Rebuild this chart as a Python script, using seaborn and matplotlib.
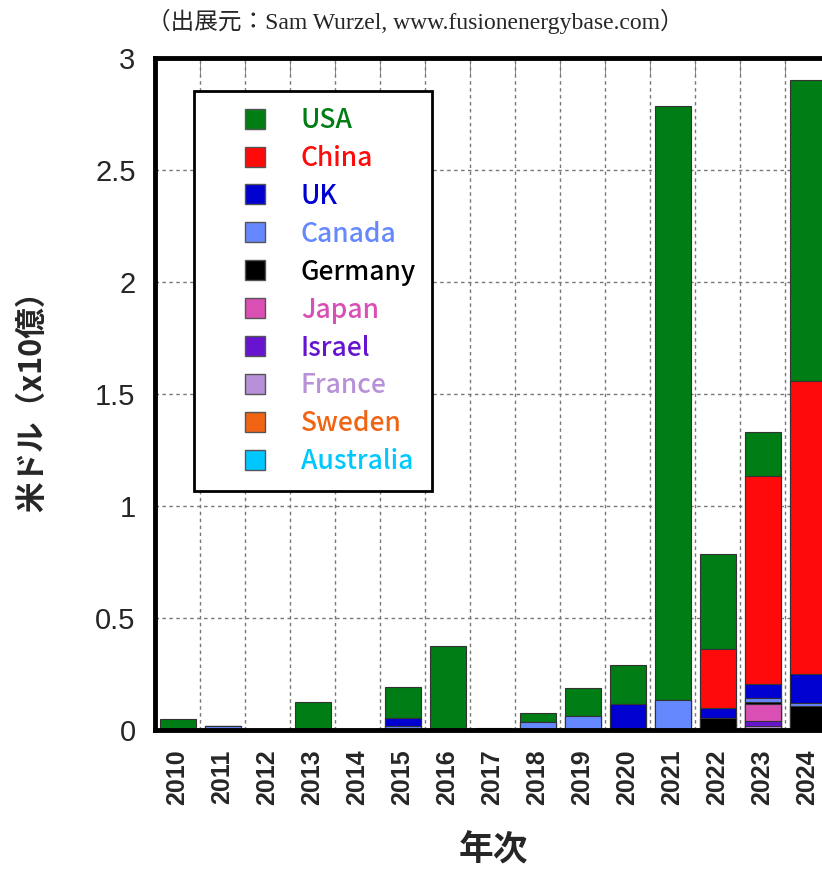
import matplotlib
matplotlib.use('Agg')
import matplotlib.pyplot as plt
import seaborn as sns
import numpy as np
from matplotlib.lines import Line2D

years = [str(y) for y in range(2010, 2025)]
usa = [0.05, 0, 0, 0.125, 0, 0.137, 0.375, 0.008, 0.04, 0.125, 0.174, 2.652, 0.424, 0.197, 1.348]
china = [0, 0, 0, 0, 0, 0, 0, 0, 0, 0, 0, 0, 0.264, 0.925, 1.307]
uk = [0, 0, 0, 0, 0, 0.033, 0, 0, 0, 0, 0.115, 0, 0.043, 0.062, 0.127]
canada = [0, 0.02, 0, 0, 0, 0.02, 0, 0, 0.035, 0.0625, 0, 0.134, 0, 0.021, 0.015]
germany = [0, 0, 0, 0, 0, 0, 0, 0, 0, 0, 0, 0, 0.051, 0.01, 0.104]
japan = [0, 0, 0, 0, 0, 0, 0, 0, 0, 0, 0, 0, 0, 0.072, 0]
israel = [0, 0, 0, 0, 0, 0, 0, 0, 0, 0, 0, 0, 0.004, 0.022, 0.003]
france = [0, 0, 0, 0, 0, 0, 0, 0, 0, 0, 0, 0, 0, 0.02, 0]
sweden = [0] * 15
australia = [0] * 15

countries = ['USA', 'China', 'UK', 'Canada', 'Germany', 'Japan', 'Israel', 'France', 'Sweden', 'Australia']
colors = ['#007d14', '#ff0a0a', '#0000d0', '#6688ff', '#000000', '#d94fb3', '#6614d0', '#b890d8', '#f06414', '#00c8ff']
series = [usa, china, uk, canada, germany, japan, israel, france, sweden, australia]

sns.set_style('white')
plt.rcParams['font.family'] = ['Liberation Sans', 'Noto Sans CJK JP']

fig = plt.figure(figsize=(8.22, 8.69), dpi=100)
ax = fig.add_axes([155 / 822, 139 / 869, 675 / 822, 672 / 869])

# stacked bars: draw cumulative totals from top layer down
stack = np.array(series[::-1])  # bottom -> top
cum = np.cumsum(stack, axis=0)
for i in range(len(countries) - 1, -1, -1):
    col = colors[::-1][i]
    sns.barplot(x=years, y=cum[i], color=col, saturation=1, width=0.8,
                edgecolor='#333333', linewidth=0.8, errorbar=None, ax=ax)

ax.set_ylim(0, 3)
ax.set_xlim(-0.5, 14.5)
ax.set_yticks([0, 0.5, 1, 1.5, 2, 2.5, 3])
ax.set_yticklabels(['0', '0.5', '1', '1.5', '2', '2.5', '3'], fontsize=21)
ax.set_xticks(range(len(years)))
ax.set_xticklabels(years, rotation=90, fontsize=18, fontweight='bold')
ax.set_xticks(np.arange(0.5, 14.5, 1), minor=True)
ax.tick_params(axis='x', which='major', length=0, pad=14)
ax.tick_params(axis='x', which='minor', direction='in', length=12, top=True, color='#777777')
ax.tick_params(axis='y', which='major', direction='in', length=10, right=True, color='#777777', pad=14)
ax.grid(axis='y', which='major', linestyle=(0, (2.5, 2.5)), color='#777777', linewidth=1)
ax.grid(axis='x', which='minor', linestyle=(0, (2.5, 2.5)), color='#777777', linewidth=1)
ax.set_axisbelow(True)
for s in ax.spines.values():
    s.set_linewidth(3.5)
    s.set_color('black')

ax.set_xlabel('')
ax.set_ylabel('米ドル（x10億）', fontsize=22, fontweight='bold', family=['Noto Sans CJK JP'])
ax.yaxis.set_label_coords(-0.158, 0.5)
fig.text(493 / 822, 1 - 850 / 869, '年次', fontsize=25, fontweight='bold',
         family=['Noto Sans CJK JP'], ha='center', va='center')
fig.text(415 / 822, 1 - 21 / 869, '（出展元：Sam Wurzel, www.fusionenergybase.com）', fontsize=17,
         family=['Liberation Serif', 'Noto Sans CJK JP'], ha='center', va='center')

handles = [Line2D([], [], marker='s', markersize=15, markerfacecolor=c, markeredgecolor='#555555',
                  linestyle='none') for c in colors]
leg = ax.legend(handles, countries, loc='upper left', bbox_to_anchor=(39 / 675, 1 - 33 / 672),
                borderaxespad=0, handlelength=3.4, handletextpad=0.05,
                borderpad=0.6, labelspacing=0.415, fancybox=False, framealpha=1,
                edgecolor='black', prop={'family': ['Noto Sans CJK JP'], 'weight': 'medium', 'size': 19})
leg.get_frame().set_linewidth(2)
for t, c in zip(leg.get_texts(), colors):
    t.set_color(c)

fig.savefig('out.png', dpi=100)
